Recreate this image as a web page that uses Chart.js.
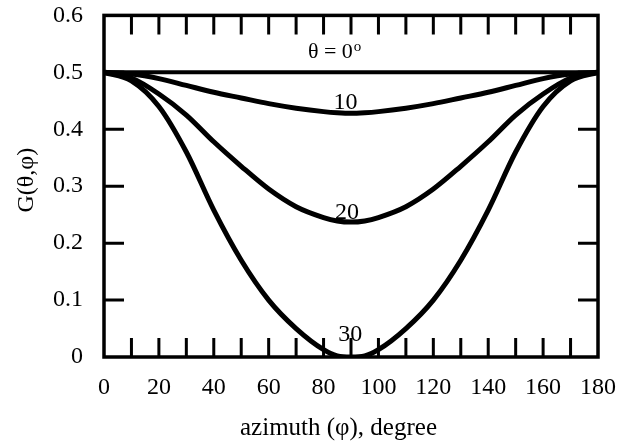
<!DOCTYPE html>
<html>
<head>
<meta charset="utf-8">
<script src="https://cdn.jsdelivr.net/npm/chart.js"></script>
<style>
  body { margin: 0; background: #fff; }
</style>
</head>
<body>
<canvas id="ctxG" width="627" height="445"></canvas>
<script>
// azimuth angle (degrees) and G(theta, phi)
const azimuth = [0, 10, 20, 30, 40, 50, 60, 70, 80, 85, 90, 95, 100, 110, 120, 130, 140, 150, 160, 170, 180];
const gTheta0 = [0.5, 0.5, 0.5, 0.5, 0.5, 0.5, 0.5, 0.5, 0.5, 0.5, 0.5, 0.5, 0.5, 0.5, 0.5, 0.5, 0.5, 0.5, 0.5, 0.5, 0.5];
const gTheta10 = [0.5, 0.497, 0.489, 0.477, 0.465, 0.455, 0.445, 0.437, 0.431, 0.429, 0.428, 0.429, 0.431, 0.437, 0.445, 0.455, 0.465, 0.477, 0.489, 0.497, 0.5];
const gTheta20 = [0.5, 0.49, 0.462, 0.425, 0.378, 0.335, 0.295, 0.264, 0.245, 0.239, 0.237, 0.239, 0.245, 0.264, 0.295, 0.335, 0.378, 0.425, 0.462, 0.49, 0.5];
const gTheta30 = [0.5, 0.485, 0.44, 0.36, 0.258, 0.17, 0.1, 0.05, 0.013, 0.002, 0, 0.002, 0.013, 0.05, 0.1, 0.17, 0.258, 0.36, 0.44, 0.485, 0.5];
const curveNames = ['θ = 0', '10', '20', '30'];

const serif = "'Liberation Serif', 'Times New Roman', serif";

function pts(vals) {
  return azimuth.map((a, i) => ({ x: a, y: vals[i] }));
}

function curve(label, vals, width) {
  return {
    label: label,
    data: pts(vals),
    borderColor: '#000',
    borderWidth: width,
    pointRadius: 0,
    fill: false,
    cubicInterpolationMode: 'monotone'
  };
}

// frame with inward ticks on all four sides, plus the curve labels
const frameTicks = {
  id: 'frameTicks',
  afterDatasetsDraw(chart) {
    const { ctx, chartArea: a, scales: { x, y } } = chart;
    ctx.save();
    ctx.strokeStyle = '#000';
    ctx.lineWidth = 3;
    ctx.beginPath();
    for (let v = 10; v < 180; v += 10) {
      const px = x.getPixelForValue(v);
      ctx.moveTo(px, a.bottom); ctx.lineTo(px, a.bottom - 19);
      ctx.moveTo(px, a.top); ctx.lineTo(px, a.top + 19);
    }
    for (let k = 1; k < 6; k++) {
      const py = y.getPixelForValue(k / 10);
      ctx.moveTo(a.left, py); ctx.lineTo(a.left + 20, py);
      ctx.moveTo(a.right, py); ctx.lineTo(a.right - 20, py);
    }
    ctx.stroke();
    ctx.lineWidth = 3.5;
    ctx.strokeRect(a.left, a.top, a.right - a.left, a.bottom - a.top);

    ctx.fillStyle = '#000';
    ctx.textBaseline = 'middle';
    // theta = 0 label with raised small "o"
    ctx.font = '22px ' + serif;
    ctx.textAlign = 'left';
    const tx = x.getPixelForValue(74.3), ty = y.getPixelForValue(0.535);
    ctx.fillText(curveNames[0], tx, ty);
    const w = ctx.measureText(curveNames[0]).width;
    ctx.font = '15px ' + serif;
    ctx.fillText('o', tx + w + 1, ty - 5);

    ctx.font = '24px ' + serif;
    ctx.textAlign = 'center';
    ctx.fillText(curveNames[1], x.getPixelForValue(88), y.getPixelForValue(0.446));
    ctx.fillText(curveNames[2], x.getPixelForValue(88.5), y.getPixelForValue(0.254));
    ctx.fillText(curveNames[3], x.getPixelForValue(89.7), y.getPixelForValue(0.039));
    ctx.restore();
  }
};

new Chart(document.getElementById('ctxG'), {
  type: 'line',
  data: {
    datasets: [
      curve('0', gTheta0, 4),
      curve('10', gTheta10, 5),
      curve('20', gTheta20, 5),
      curve('30', gTheta30, 5)
    ]
  },
  options: {
    responsive: false,
    animation: false,
    layout: { padding: { left: 0, right: 29, top: 15, bottom: 0 } },
    plugins: {
      legend: { display: false },
      tooltip: { enabled: false }
    },
    scales: {
      x: {
        type: 'linear',
        min: 0,
        max: 180,
        grid: { display: false, drawTicks: true, tickLength: 15 },
        border: { display: false },
        ticks: { stepSize: 20, padding: 1, color: '#000', font: { family: serif, size: 24 } },
        title: { display: true, text: 'azimuth (φ), degree\u2002\u2002', color: '#000', font: { family: serif, size: 25 }, padding: { top: 0, bottom: 2 } },
        afterFit(scale) { scale.height = 88; }
      },
      y: {
        min: 0,
        max: 0.6,
        grid: { display: false, drawTicks: true, tickLength: 20 },
        border: { display: false },
        ticks: {
          stepSize: 0.1,
          padding: 1,
          color: '#000',
          font: { family: serif, size: 24 },
          callback: v => v === 0 ? '0' : v.toFixed(1)
        },
        title: { display: true, text: '\u2002G(θ,φ)', color: '#000', font: { family: serif, size: 24 }, padding: { top: 12, bottom: 0 } },
        afterFit(scale) { scale.width = 104; }
      }
    }
  },
  plugins: [frameTicks]
});
</script>
</body>
</html>
